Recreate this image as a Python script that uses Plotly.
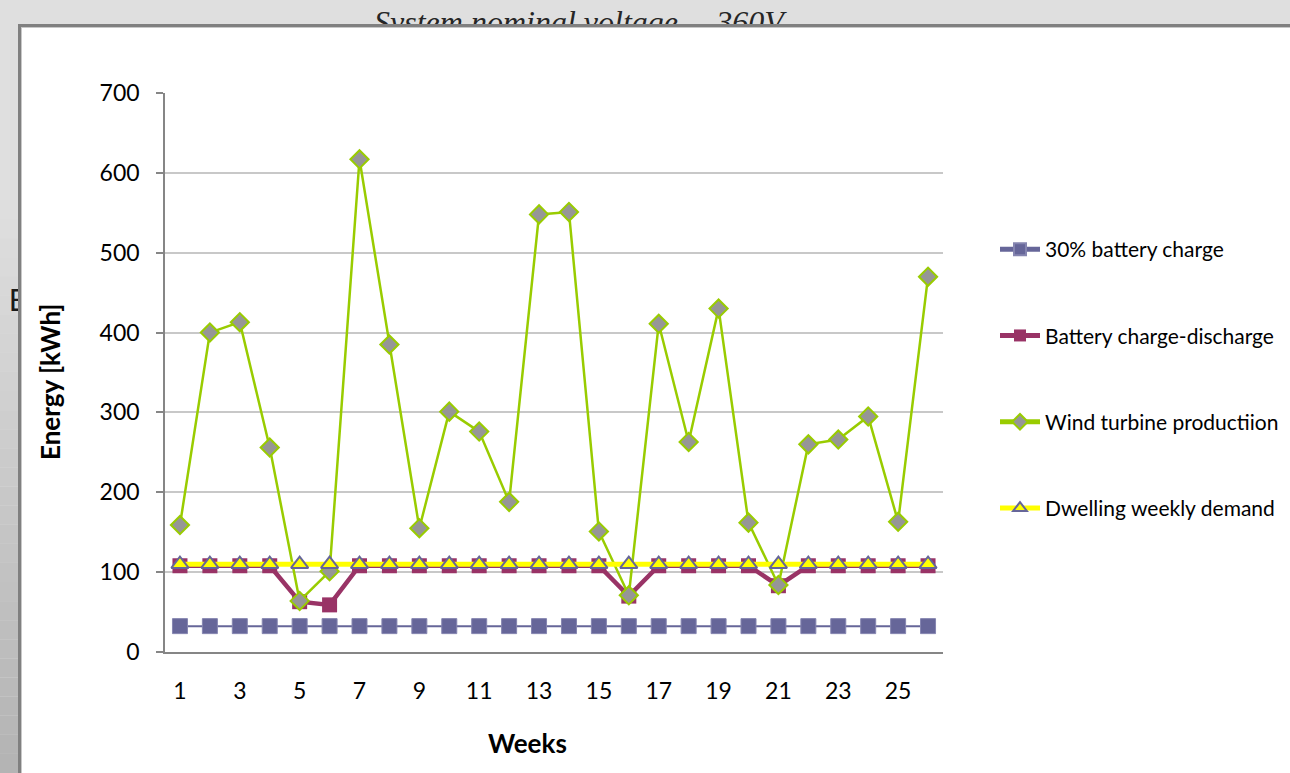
import plotly.graph_objects as go

# ---- data -------------------------------------------------------------
weeks = list(range(1, 27))
week_ticks = [1, 3, 5, 7, 9, 11, 13, 15, 17, 19, 21, 23, 25]

battery_30pct = [32.4, 32.4, 32.4, 32.4, 32.4, 32.4, 32.4, 32.4, 32.4, 32.4, 32.4, 32.4, 32.4,
                 32.4, 32.4, 32.4, 32.4, 32.4, 32.4, 32.4, 32.4, 32.4, 32.4, 32.4, 32.4, 32.4]
battery_charge_discharge = [108, 108, 108, 108, 63, 59, 108, 108, 108, 108, 108, 108, 108,
                            108, 108, 70, 108, 108, 108, 108, 83, 108, 108, 108, 108, 108]
wind_production = [159, 400, 413, 256, 64, 101, 617, 385, 155, 301, 276, 188, 548,
                   551, 151, 71, 411, 263, 430, 162, 84, 260, 266, 295, 163, 470]
weekly_demand = [110, 110, 110, 110, 110, 110, 110, 110, 110, 110, 110, 110, 110,
                 110, 110, 110, 110, 110, 110, 110, 110, 110, 110, 110, 110, 110]

y_ticks = [0, 100, 200, 300, 400, 500, 600, 700]

# ---- page geometry (pixels) -------------------------------------------
W, H = 1290, 773
PLOT_L, PLOT_R, PLOT_T, PLOT_B = 165, 943, 93, 652
BOX_L, BOX_T = 18, 24


def px(x):
    return x / W


def py(y):
    return 1 - y / H


FONT = "Lato, Carlito, 'Noto Sans', sans-serif"

fig = go.Figure()

fig.add_trace(go.Scatter(
    x=weeks, y=battery_30pct, name="30% battery charge", mode="lines+markers",
    line=dict(color="#666699", width=2),
    marker=dict(symbol="square", size=15, color="#666699",
                line=dict(color="#8585b0", width=1)),
    legendgroup="a", xaxis="x", yaxis="y"))
fig.add_trace(go.Scatter(
    x=weeks, y=battery_charge_discharge, name="Battery charge-discharge",
    mode="lines+markers",
    line=dict(color="#993366", width=4.5),
    marker=dict(symbol="square", size=15, color="#993366"),
    legendgroup="b", xaxis="x", yaxis="y"))
fig.add_trace(go.Scatter(
    x=weeks, y=wind_production, name="Wind turbine productiion",
    mode="lines+markers",
    line=dict(color="#99CC00", width=2.5),
    marker=dict(symbol="diamond", size=14, color="#969696",
                line=dict(color="#99CC00", width=2)),
    legendgroup="c", xaxis="x", yaxis="y"))
fig.add_trace(go.Scatter(
    x=weeks, y=weekly_demand, name="Dwelling weekly demand",
    mode="lines+markers",
    line=dict(color="#FFFF00", width=5),
    marker=dict(symbol="triangle-up", size=15, color="#FFFF00",
                line=dict(color="#666699", width=2)),
    legendgroup="d", xaxis="x", yaxis="y"))

# text that sits behind the chart frame, clipped by small helper subplots
fig.add_trace(go.Scatter(
    x=[526, 750], y=[24.5, 24.5], mode="text",
    text=["System nominal voltage", "360V"],
    textfont=dict(family="'Liberation Serif', serif", size=32, color="#262626",
                  style="italic"),
    cliponaxis=True, showlegend=False, hoverinfo="skip",
    xaxis="x2", yaxis="y2"))
fig.add_trace(go.Scatter(
    x=[17.5], y=[303], mode="text", text=["E"],
    textfont=dict(family=FONT, size=30, color="#1a1a1a"),
    cliponaxis=True, showlegend=False, hoverinfo="skip",
    xaxis="x3", yaxis="y3"))

# ---- background frame ---------------------------------------------------
shapes = []
# left strip darkening towards the bottom
n_bands = 30
g0, g1 = 0xDF, 0xB3
y_start = 200
for i in range(n_bands):
    ya = y_start + (H - y_start) * i / n_bands
    yb = y_start + (H - y_start) * (i + 1) / n_bands
    g = round(g0 + (g1 - g0) * (i + 0.5) / n_bands)
    shapes.append(dict(type="rect", xref="paper", yref="paper",
                       x0=0, x1=px(BOX_L), y0=py(yb), y1=py(ya),
                       fillcolor=f"rgb({g},{g},{g})", line=dict(width=0),
                       layer="below"))
# white chart box with dark top/left edge
shapes.append(dict(type="rect", xref="paper", yref="paper",
                   x0=px(BOX_L), x1=1, y0=0, y1=py(BOX_T),
                   fillcolor="#808080", line=dict(width=0), layer="below"))
shapes.append(dict(type="rect", xref="paper", yref="paper",
                   x0=px(BOX_L + 3), x1=1, y0=0, y1=py(BOX_T + 3),
                   fillcolor="#c8c8c8", line=dict(width=0), layer="below"))
shapes.append(dict(type="rect", xref="paper", yref="paper",
                   x0=px(BOX_L + 4), x1=1, y0=0, y1=py(BOX_T + 4),
                   fillcolor="#ffffff", line=dict(width=0), layer="below"))

annotations = [
    dict(text="<b>Energy [kWh]</b>", xref="paper", yref="paper",
         x=px(50), y=py(382), textangle=-90,
         showarrow=False, xanchor="center", yanchor="middle",
         font=dict(family=FONT, size=26, color="#000000")),
    dict(text="<b>Weeks</b>", xref="paper", yref="paper",
         x=px(527), y=py(743), showarrow=False,
         xanchor="center", yanchor="middle",
         font=dict(family=FONT, size=26, color="#000000")),
]

fig.update_layout(
    width=W, height=H,
    margin=dict(l=0, r=0, t=0, b=0, pad=0, autoexpand=False),
    paper_bgcolor="#dfdfdf",
    plot_bgcolor="rgba(0,0,0,0)",
    font=dict(family=FONT, color="#000000"),
    shapes=shapes,
    annotations=annotations,
    showlegend=True,
    legend=dict(x=px(995), y=py(229), xanchor="left", yanchor="top",
                bgcolor="rgba(0,0,0,0)", borderwidth=0,
                font=dict(family=FONT, size=21, color="#000000"),
                tracegroupgap=56, itemwidth=40, itemsizing="constant"),
    xaxis=dict(domain=[px(PLOT_L), px(PLOT_R)], range=[0.5, 26.5],
               tickvals=week_ticks, ticks="", showgrid=False,
               showline=True, linecolor="#868686", linewidth=1.5,
               zeroline=False, ticklabelstandoff=18,
               tickfont=dict(family=FONT, size=23, color="#000000"),
               anchor="y", fixedrange=True),
    yaxis=dict(domain=[py(PLOT_B), py(PLOT_T)], range=[0, 700],
               tickvals=y_ticks, ticks="outside", ticklen=7,
               tickcolor="#868686", tickwidth=1.5,
               showgrid=True, gridcolor="#c8c8c8", gridwidth=1.5,
               showline=True, linecolor="#868686", linewidth=1.5,
               zeroline=False, ticklabelstandoff=12,
               tickfont=dict(family=FONT, size=23, color="#000000"),
               anchor="x", fixedrange=True),
    xaxis2=dict(domain=[0, 1], range=[0, W], visible=False,
                anchor="y2", fixedrange=True),
    yaxis2=dict(domain=[py(BOX_T), 1], range=[BOX_T, 0], visible=False,
                anchor="x2", fixedrange=True),
    xaxis3=dict(domain=[0, px(BOX_L)], range=[0, BOX_L], visible=False,
                anchor="y3", fixedrange=True),
    yaxis3=dict(domain=[py(340), py(260)], range=[340, 260], visible=False,
                anchor="x3", fixedrange=True),
)

fig.write_html("out.html")
